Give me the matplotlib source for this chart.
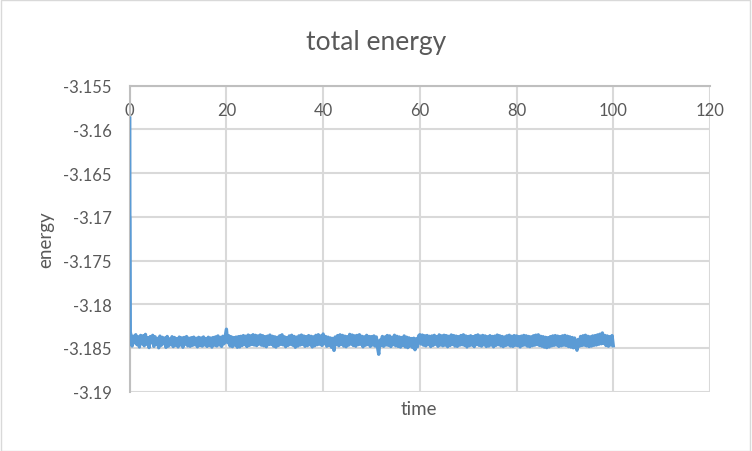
import numpy as np
import matplotlib
matplotlib.use("Agg")
import matplotlib.pyplot as plt
from matplotlib.patches import Rectangle

plt.rcParams['font.family'] = ['Lato', 'DejaVu Sans']

title = "total energy"
x_label = "time"
y_label = "energy"
x_ticks = [0, 20, 40, 60, 80, 100, 120]
y_ticks = [-3.19, -3.185, -3.18, -3.175, -3.17, -3.165, -3.16, -3.155]
y_tick_labels = ["-3.19", "-3.185", "-3.18", "-3.175", "-3.17", "-3.165", "-3.16", "-3.155"]

# initial transient
start_time = [0.0, 0.02, 0.06, 0.12]
start_energy = [-3.1587, -3.1698, -3.1702, -3.1832]

# steady part, sampled every 0.25 time units from 0.25 to 100
steady_energy = [
    -3.18352, -3.18478, -3.18365, -3.18441, -3.18348, -3.18462, -3.18372, -3.18489, -3.18356, -3.18452,
    -3.18361, -3.18475, -3.18344, -3.18458, -3.18382, -3.18496, -3.18369, -3.18441, -3.18355, -3.18482,
    -3.18372, -3.18461, -3.18390, -3.18498, -3.18364, -3.18470, -3.18378, -3.18452, -3.18386, -3.18493,
    -3.18368, -3.18479, -3.18395, -3.18462, -3.18371, -3.18485, -3.18380, -3.18470, -3.18392, -3.18488,
    -3.18375, -3.18466, -3.18384, -3.18492, -3.18379, -3.18458, -3.18369, -3.18476, -3.18388, -3.18481,
    -3.18382, -3.18470, -3.18376, -3.18463, -3.18389, -3.18487, -3.18378, -3.18471, -3.18385, -3.18479,
    -3.18374, -3.18465, -3.18391, -3.18482, -3.18377, -3.18472, -3.18386, -3.18490, -3.18380, -3.18468,
    -3.18373, -3.18477, -3.18362, -3.18465, -3.18378, -3.18482, -3.18366, -3.18452, -3.18370, -3.18285,
    -3.18440, -3.18360, -3.18478, -3.18372, -3.18485, -3.18381, -3.18466, -3.18375, -3.18492, -3.18370,
    -3.18488, -3.18366, -3.18472, -3.18358, -3.18461, -3.18365, -3.18484, -3.18352, -3.18470, -3.18361,
    -3.18459, -3.18348, -3.18466, -3.18355, -3.18473, -3.18362, -3.18455, -3.18351, -3.18468, -3.18359,
    -3.18475, -3.18370, -3.18486, -3.18364, -3.18462, -3.18352, -3.18458, -3.18366, -3.18479, -3.18372,
    -3.18490, -3.18378, -3.18472, -3.18361, -3.18458, -3.18349, -3.18465, -3.18372, -3.18486, -3.18381,
    -3.18470, -3.18362, -3.18458, -3.18354, -3.18469, -3.18368, -3.18492, -3.18376, -3.18478, -3.18361,
    -3.18466, -3.18352, -3.18459, -3.18363, -3.18481, -3.18370, -3.18474, -3.18358, -3.18462, -3.18366,
    -3.18488, -3.18372, -3.18476, -3.18355, -3.18463, -3.18348, -3.18457, -3.18362, -3.18471, -3.18340,
    -3.18452, -3.18368, -3.18480, -3.18376, -3.18471, -3.18385, -3.18493, -3.18390, -3.18528, -3.18374,
    -3.18462, -3.18358, -3.18475, -3.18349, -3.18460, -3.18356, -3.18478, -3.18365, -3.18486, -3.18371,
    -3.18468, -3.18344, -3.18455, -3.18352, -3.18472, -3.18361, -3.18480, -3.18356, -3.18462, -3.18348,
    -3.18458, -3.18366, -3.18487, -3.18372, -3.18469, -3.18355, -3.18461, -3.18368, -3.18482, -3.18370,
    -3.18466, -3.18362, -3.18478, -3.18374, -3.18490, -3.18572, -3.18410, -3.18472, -3.18368, -3.18481,
    -3.18375, -3.18466, -3.18357, -3.18470, -3.18362, -3.18484, -3.18378, -3.18462, -3.18354, -3.18475,
    -3.18366, -3.18482, -3.18374, -3.18490, -3.18380, -3.18471, -3.18362, -3.18488, -3.18376, -3.18496,
    -3.18384, -3.18478, -3.18392, -3.18495, -3.18388, -3.18520, -3.18395, -3.18486, -3.18362, -3.18348,
    -3.18455, -3.18352, -3.18468, -3.18360, -3.18476, -3.18357, -3.18462, -3.18366, -3.18484, -3.18362,
    -3.18470, -3.18355, -3.18458, -3.18369, -3.18481, -3.18350, -3.18466, -3.18361, -3.18475, -3.18354,
    -3.18468, -3.18359, -3.18486, -3.18366, -3.18472, -3.18351, -3.18460, -3.18358, -3.18478, -3.18364,
    -3.18482, -3.18370, -3.18468, -3.18357, -3.18463, -3.18349, -3.18471, -3.18362, -3.18489, -3.18368,
    -3.18474, -3.18360, -3.18466, -3.18371, -3.18485, -3.18358, -3.18461, -3.18350, -3.18470, -3.18363,
    -3.18479, -3.18356, -3.18464, -3.18362, -3.18483, -3.18371, -3.18478, -3.18359, -3.18466, -3.18368,
    -3.18487, -3.18364, -3.18470, -3.18352, -3.18462, -3.18360, -3.18476, -3.18368, -3.18485, -3.18374,
    -3.18472, -3.18361, -3.18465, -3.18354, -3.18478, -3.18366, -3.18482, -3.18358, -3.18469, -3.18362,
    -3.18474, -3.18370, -3.18488, -3.18364, -3.18471, -3.18356, -3.18466, -3.18361, -3.18479, -3.18368,
    -3.18485, -3.18372, -3.18474, -3.18360, -3.18468, -3.18353, -3.18461, -3.18349, -3.18472, -3.18366,
    -3.18480, -3.18371, -3.18490, -3.18378, -3.18496, -3.18382, -3.18488, -3.18370, -3.18476, -3.18362,
    -3.18470, -3.18358, -3.18466, -3.18364, -3.18482, -3.18370, -3.18475, -3.18361, -3.18468, -3.18356,
    -3.18472, -3.18365, -3.18484, -3.18372, -3.18490, -3.18380, -3.18498, -3.18386, -3.18475, -3.18526,
    -3.18402, -3.18480, -3.18368, -3.18472, -3.18360, -3.18468, -3.18354, -3.18476, -3.18366, -3.18484,
    -3.18372, -3.18478, -3.18362, -3.18470, -3.18358, -3.18466, -3.18350, -3.18458, -3.18342, -3.18452,
    -3.18328, -3.18448, -3.18356, -3.18472, -3.18362, -3.18480, -3.18370, -3.18466, -3.18358, -3.18474,
]
steady_time = [0.25 * (i + 1) for i in range(len(steady_energy))]

time = start_time + steady_time
energy = start_energy + steady_energy

text_color = "#595959"
grid_color = "#d9d9d9"
axis_color = "#bfbfbf"
line_color = "#5b9bd5"

fig = plt.figure(figsize=(7.52, 4.52), dpi=100)
fig.patches.append(Rectangle((0.0007, 0.0011), 0.9973, 0.9956, transform=fig.transFigure,
                             fill=False, edgecolor=grid_color, linewidth=1.0))
ax = fig.add_axes([0.1725, 0.1312, 0.7716, 0.6770])

ax.plot(time, energy, color=line_color, linewidth=2.4, solid_joinstyle='round', zorder=3)

ax.set_xlim(0, 120)
ax.set_ylim(-3.19, -3.155)
ax.set_xticks(x_ticks)
ax.set_xticklabels([str(v) for v in x_ticks])
ax.set_yticks(y_ticks)
ax.set_yticklabels(y_tick_labels)

ax.set_axisbelow(True)
ax.grid(True, color=grid_color, linewidth=1.5)

for s in ['bottom', 'right']:
    ax.spines[s].set_visible(False)
for s in ['top', 'left']:
    ax.spines[s].set_color(axis_color)
    ax.spines[s].set_linewidth(1.5)

ax.tick_params(axis='x', which='both', bottom=False, top=False, length=0, labelbottom=False,
               labeltop=True, labelsize=12, labelcolor=text_color, pad=-17.5)
for lab in ax.get_xticklabels():
    lab.set_va('center')
ax.tick_params(axis='y', which='both', left=False, right=False, length=0, labelsize=12,
               labelcolor=text_color, pad=13)

fig.text(0.5, 0.906, title, ha='center', va='center', fontsize=19, color=text_color)
fig.text(0.557, 0.095, x_label, ha='center', va='center', fontsize=13.5, color=text_color)
fig.text(0.061, 0.469, y_label, ha='center', va='center', rotation=90, fontsize=13.5, color=text_color)

fig.savefig("out.png", dpi=100)
